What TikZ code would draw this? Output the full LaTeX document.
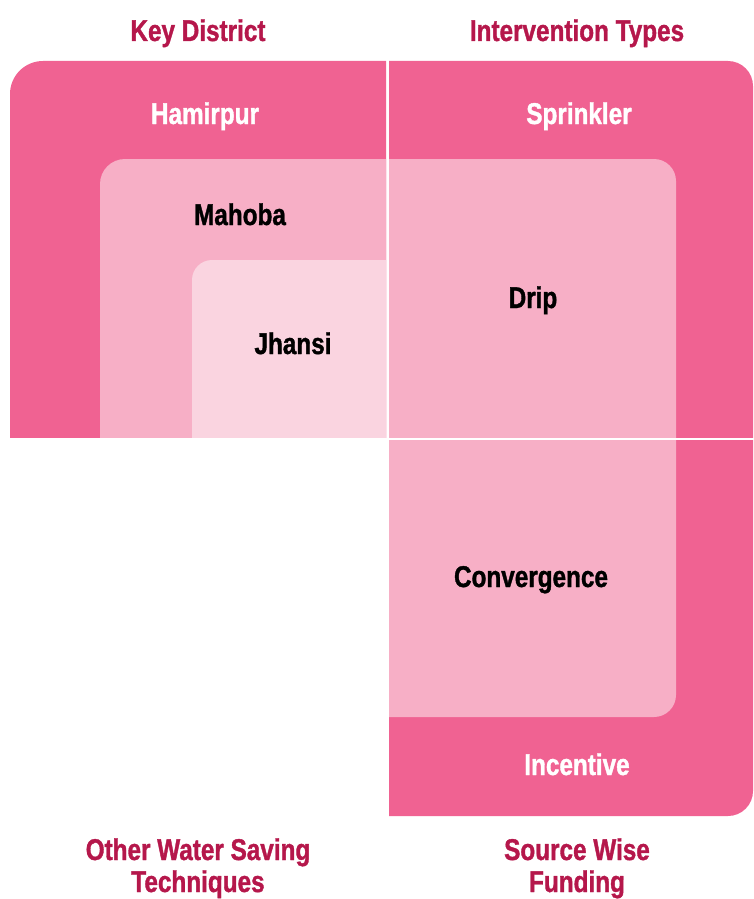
\documentclass[tikz,border=0pt]{standalone}
\usepackage{fontspec}
\setmainfont{Liberation Sans}[FakeStretch=0.81, BoldFeatures={FakeBold=1.2}]
\definecolor{dk}{HTML}{F06292}
\definecolor{md}{HTML}{F7AFC6}
\definecolor{lt}{HTML}{FAD4E0}
\definecolor{ttl}{HTML}{B5174B}
\begin{document}
\begin{tikzpicture}[x=1pt,y=-1pt,
  lbl/.style={font=\fontsize{30}{34}\selectfont\bfseries, anchor=base, inner sep=0pt},
  title/.style={lbl, text=ttl},
  wht/.style={lbl, text=white},
  blk/.style={lbl, text=black}]
\useasboundingbox (0,0) rectangle (753,899);
% top-left quadrant
\begin{scope}\clip (10,61) rectangle (386,437);
  \fill[dk, rounded corners=33] (10,61) rectangle (520,560);\end{scope}
\begin{scope}\clip (100,159) rectangle (386,437);
  \fill[md, rounded corners=25] (100,159) rectangle (520,560);\end{scope}
\begin{scope}\clip (192,260) rectangle (386,437);
  \fill[lt, rounded corners=20] (192,260) rectangle (520,560);\end{scope}
% top-right quadrant
\begin{scope}\clip (389,61) rectangle (753,437);
  \fill[dk, rounded corners=25] (250,61) rectangle (753,600);\end{scope}
\begin{scope}\clip (389,159) rectangle (676,437);
  \fill[md, rounded corners=22] (250,159) rectangle (676,600);\end{scope}
% bottom-right quadrant
\begin{scope}\clip (389,440) rectangle (753,816);
  \fill[dk, rounded corners=25] (250,300) rectangle (753,816);\end{scope}
\begin{scope}\clip (389,440) rectangle (676,717);
  \fill[md, rounded corners=22] (250,300) rectangle (676,717);\end{scope}
% titles
\node[title] (kd) at (198,41) {Key District};
\node[title] (it) at (577,41) {Intervention Types};
\node[title] (ow1) at (198,860) {Other Water Saving};
\node[title] (ow2) at (198,892) {Techniques};
\node[title] (sw1) at (577,860) {Source Wise};
\node[title] (sw2) at (577,892) {Funding};
% labels
\node[wht] (ham) at (205,124) {Hamirpur};
\node[wht] (spr) at (579,124) {Sprinkler};
\node[blk] (mah) at (240,225) {Mahoba};
\node[blk] (drp) at (533,308) {Drip};
\node[blk] (jha) at (293,354) {Jhansi};
\node[blk] (con) at (531,587) {Convergence};
\node[wht] (inc) at (577,775) {Incentive};
\end{tikzpicture}
\end{document}
